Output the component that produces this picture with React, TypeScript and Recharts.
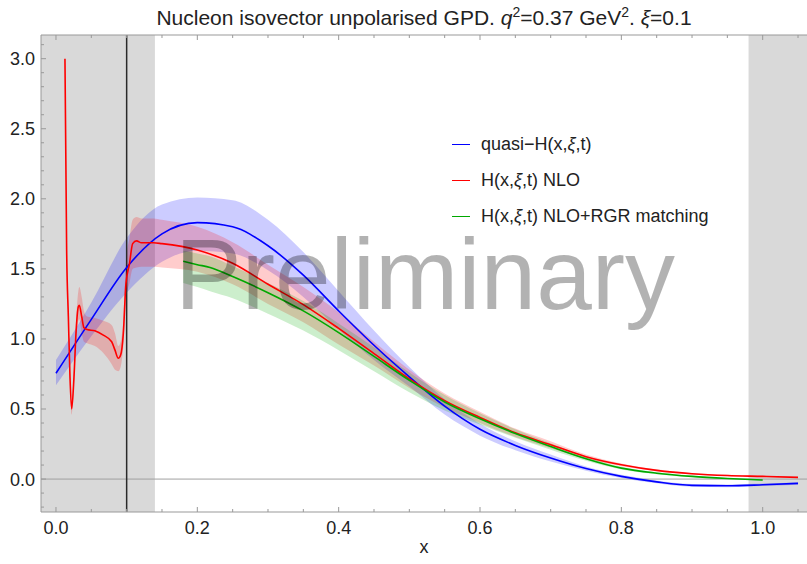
import React from 'react'
import {
  ComposedChart,
  Line,
  Area,
  XAxis,
  YAxis,
  ReferenceArea,
  ReferenceLine,
  Legend,
} from 'recharts'

// plot range (Mathematica frame)
const X_MIN = -0.0212
const X_MAX = 1.0627
const Y_MIN = -0.235
const Y_MAX = 3.169

// ticks: every entry gets a tick mark, majors get a label
const xTicks = [0, 0.05, 0.1, 0.15, 0.2, 0.25, 0.3, 0.35, 0.4, 0.45, 0.5, 0.55, 0.6, 0.65, 0.7, 0.75, 0.8, 0.85, 0.9, 0.95, 1.0, 1.05]
const xMajor = [0, 0.2, 0.4, 0.6, 0.8, 1.0]
const yTicks = [-0.2, -0.1, 0, 0.1, 0.2, 0.3, 0.4, 0.5, 0.6, 0.7, 0.8, 0.9, 1.0, 1.1, 1.2, 1.3, 1.4, 1.5, 1.6, 1.7, 1.8, 1.9, 2.0, 2.1, 2.2, 2.3, 2.4, 2.5, 2.6, 2.7, 2.8, 2.9, 3.0, 3.1]
const yMajor = [0, 0.5, 1.0, 1.5, 2.0, 2.5, 3.0]

// quasi-H(x,xi,t)
const quasiX = [0, 0.05, 0.1, 0.15, 0.2, 0.25, 0.3, 0.35, 0.4, 0.45, 0.5, 0.55, 0.6, 0.65, 0.7, 0.75, 0.8, 0.85, 0.9, 0.95, 1.0, 1.05]
const quasiY = [0.755, 1.14, 1.51, 1.75, 1.83, 1.8, 1.665, 1.455, 1.2, 0.955, 0.73, 0.52, 0.355, 0.24, 0.15, 0.075, 0.019, -0.02, -0.045, -0.048, -0.041, -0.031]
const quasiLo = [0.67, 1.02, 1.33, 1.55, 1.63, 1.61, 1.49, 1.3, 1.07, 0.85, 0.66, 0.46, 0.31, 0.205, 0.125, 0.06, 0.008, -0.03, -0.055, -0.058, -0.05, -0.04]
const quasiHi = [0.85, 1.26, 1.72, 1.96, 2.01, 1.99, 1.85, 1.62, 1.34, 1.06, 0.8, 0.57, 0.395, 0.27, 0.175, 0.09, 0.03, -0.01, -0.035, -0.038, -0.032, -0.022]

// H(x,xi,t) NLO
const nloX = [0.0127, 0.0151, 0.0175, 0.0198, 0.0222, 0.0255, 0.0283, 0.0316, 0.033, 0.0364, 0.0396, 0.044, 0.055, 0.067, 0.0788, 0.0835, 0.0882, 0.0915, 0.0953, 0.099, 0.104, 0.1085, 0.114, 0.121, 0.138, 0.15, 0.2, 0.25, 0.3, 0.35, 0.4, 0.45, 0.5, 0.55, 0.6, 0.65, 0.7, 0.75, 0.8, 0.85, 0.9, 0.95, 1.0, 1.05]
const nloY = [3.0, 1.63, 1.16, 0.73, 0.5, 0.73, 1.04, 1.23, 1.24, 1.16, 1.08, 1.067, 1.058, 1.027, 0.98, 0.92, 0.862, 0.885, 1.04, 1.395, 1.537, 1.68, 1.7, 1.686, 1.686, 1.68, 1.635, 1.54, 1.39, 1.245, 1.075, 0.895, 0.715, 0.56, 0.44, 0.33, 0.245, 0.16, 0.102, 0.062, 0.038, 0.025, 0.019, 0.012]
const nloLo = [2.97, 1.58, 1.11, 0.69, 0.46, 0.68, 0.97, 1.13, 1.14, 1.04, 0.98, 0.97, 0.95, 0.9, 0.82, 0.78, 0.77, 0.8, 0.95, 1.28, 1.4, 1.5, 1.51, 1.515, 1.515, 1.51, 1.48, 1.39, 1.25, 1.12, 0.96, 0.81, 0.65, 0.51, 0.4, 0.3, 0.22, 0.145, 0.092, 0.055, 0.033, 0.021, 0.015, 0.009]
const nloHi = [3.02, 1.68, 1.21, 0.78, 0.54, 0.8, 1.12, 1.34, 1.37, 1.3, 1.2, 1.16, 1.15, 1.13, 1.1, 1.04, 0.95, 0.98, 1.14, 1.55, 1.72, 1.85, 1.87, 1.86, 1.86, 1.85, 1.8, 1.69, 1.53, 1.37, 1.19, 0.98, 0.78, 0.61, 0.48, 0.36, 0.27, 0.175, 0.112, 0.07, 0.043, 0.03, 0.023, 0.015]

// H(x,xi,t) NLO+RGR matching
const rgrX = [0.18, 0.2, 0.218, 0.25, 0.3, 0.35, 0.4, 0.45, 0.5, 0.55, 0.6, 0.65, 0.7, 0.75, 0.8, 0.85, 0.9, 0.95, 1.0]
const rgrY = [1.554, 1.53, 1.51, 1.445, 1.33, 1.2, 1.045, 0.875, 0.705, 0.55, 0.43, 0.325, 0.232, 0.145, 0.078, 0.042, 0.019, 0.004, -0.007]
const rgrLo = [1.4, 1.37, 1.34, 1.29, 1.18, 1.06, 0.92, 0.77, 0.62, 0.49, 0.39, 0.295, 0.21, 0.13, 0.068, 0.035, 0.014, 0.0, -0.01]
const rgrHi = [1.63, 1.61, 1.59, 1.52, 1.4, 1.27, 1.11, 0.94, 0.76, 0.6, 0.47, 0.355, 0.255, 0.16, 0.088, 0.05, 0.024, 0.008, -0.004]

const series = [
  { key: 'quasi', color: '#0000ff', label: ['quasi\u2212H(x,', 'ξ', ',t)'] },
  { key: 'nlo', color: '#ff0000', label: ['H(x,', 'ξ', ',t) NLO'] },
  { key: 'rgr', color: '#00a800', label: ['H(x,', 'ξ', ',t) NLO+RGR matching'] },
]

const toRows = (xs: number[], ys: number[], lo: number[], hi: number[]) =>
  xs.map((x, i) => ({ x, y: ys[i], band: [lo[i], hi[i]] }))

const quasiRows = toRows(quasiX, quasiY, quasiLo, quasiHi)
const nloRows = toRows(nloX, nloY, nloLo, nloHi)
const rgrRows = toRows(rgrX, rgrY, rgrLo, rgrHi)

const FONT = '"Liberation Sans", Arial, sans-serif'
const FRAME = '#999999'
const TEXT = '#222222'

const isIn = (list: number[], v: number) => list.some(m => Math.abs(m - v) < 1e-6)

// frame ticks point inward, like Mathematica
function BottomTick(props: any) {
  const { x, y, payload } = props
  const major = isIn(xMajor, payload.value)
  const y0 = y - 9
  return (
    <g>
      <line x1={x} x2={x} y1={y0} y2={y0 - (major ? 5 : 3)} stroke={FRAME} />
      {major && (
        <text x={x} y={y} dy="0.72em" textAnchor="middle" fontSize={18} fill={TEXT} fontFamily={FONT}>
          {payload.value.toFixed(1)}
        </text>
      )}
    </g>
  )
}

function TopTick(props: any) {
  const { x, y, payload } = props
  const major = isIn(xMajor, payload.value)
  return <line x1={x} x2={x} y1={y} y2={y + (major ? 5 : 3)} stroke={FRAME} />
}

function LeftTick(props: any) {
  const { x, y, payload } = props
  const major = isIn(yMajor, payload.value)
  const x0 = x + 6
  return (
    <g>
      <line x1={x0} x2={x0 + (major ? 5 : 3)} y1={y} y2={y} stroke={FRAME} />
      {major && (
        <text x={x} y={y} dy="0.36em" textAnchor="end" fontSize={18} fill={TEXT} fontFamily={FONT}>
          {payload.value.toFixed(1)}
        </text>
      )}
    </g>
  )
}

function LegendBox() {
  return (
    <div style={{ fontFamily: FONT, fontSize: 18, color: TEXT }}>
      {series.map(s => (
        <div key={s.key} style={{ display: 'flex', alignItems: 'center', height: 36 }}>
          <span style={{ display: 'inline-block', width: 18, height: 0, borderTop: `1.6px solid ${s.color}`, marginRight: 11 }} />
          <span style={{ whiteSpace: 'nowrap' }}>
            {s.label[0]}
            <i>{s.label[1]}</i>
            {s.label[2]}
          </span>
        </div>
      ))}
    </div>
  )
}

export default function App() {
  return (
    <div style={{ position: 'absolute', left: 0, top: 0, width: 807, height: 564, background: '#fff', overflow: 'hidden' }}>
      <ComposedChart width={807} height={564} margin={{ top: 5, right: 0, bottom: 0, left: 0 }}>
        <XAxis
          dataKey="x"
          type="number"
          domain={[X_MIN, X_MAX]}
          allowDataOverflow
          ticks={xTicks}
          interval={0}
          tick={<BottomTick />}
          tickSize={0}
          tickMargin={9}
          tickLine={false}
          axisLine={{ stroke: FRAME }}
          height={52}
          label={{ value: 'x', position: 'insideBottom', offset: 11, style: { fontSize: 18, fill: TEXT, fontFamily: FONT } }}
        />
        <XAxis
          xAxisId="top"
          orientation="top"
          dataKey="x"
          type="number"
          domain={[X_MIN, X_MAX]}
          allowDataOverflow
          ticks={xTicks}
          interval={0}
          tick={<TopTick />}
          tickSize={0}
          tickMargin={0}
          tickLine={false}
          axisLine={{ stroke: FRAME }}
          height={30}
        />
        <YAxis
          type="number"
          domain={[Y_MIN, Y_MAX]}
          allowDataOverflow
          ticks={yTicks}
          interval={0}
          tick={<LeftTick />}
          tickSize={0}
          tickMargin={6}
          tickLine={false}
          axisLine={{ stroke: FRAME }}
          width={41}
        />
        <ReferenceArea x1={X_MIN} x2={0.14} y1={Y_MIN} y2={Y_MAX} fill="#d9d9d9" fillOpacity={1} stroke="none" ifOverflow="hidden" />
        <ReferenceArea x1={0.98} x2={X_MAX} y1={Y_MIN} y2={Y_MAX} fill="#d9d9d9" fillOpacity={1} stroke="none" ifOverflow="hidden" />
        <ReferenceLine y={0} stroke="#a0a0a0" strokeWidth={1} />
        <ReferenceLine x={0.1} stroke="#2a2a2a" strokeWidth={1.5} />

        <Area data={quasiRows} dataKey="band" type="monotone" stroke="none" fill="#0000ff" fillOpacity={0.2} isAnimationActive={false} legendType="none" />
        <Area data={nloRows} dataKey="band" type="monotone" stroke="none" fill="#ff0000" fillOpacity={0.2} isAnimationActive={false} legendType="none" />
        <Area data={rgrRows} dataKey="band" type="monotone" stroke="none" fill="#00a800" fillOpacity={0.2} isAnimationActive={false} legendType="none" />

        <Line data={quasiRows} dataKey="y" name="quasi-H" type="monotone" stroke="#0000ff" strokeWidth={1.6} dot={false} activeDot={false} isAnimationActive={false} />
        <Line data={nloRows} dataKey="y" name="NLO" type="monotone" stroke="#ff0000" strokeWidth={1.6} dot={false} activeDot={false} isAnimationActive={false} />
        <Line data={rgrRows} dataKey="y" name="NLO+RGR" type="monotone" stroke="#00a800" strokeWidth={1.6} dot={false} activeDot={false} isAnimationActive={false} />

        <Legend
          layout="vertical"
          align="center"
          verticalAlign="middle"
          content={() => <LegendBox />}
          wrapperStyle={{ left: 452, top: 126, width: 'auto' }}
        />
      </ComposedChart>

      <svg width={807} height={564} style={{ position: 'absolute', left: 0, top: 0, pointerEvents: 'none' }}>
        <text x={424} y={25} textAnchor="middle" fontSize={21} fill={TEXT} fontFamily={FONT}>
          Nucleon isovector unpolarised GPD.{' '}
          <tspan fontStyle="italic">q</tspan>
          <tspan dy={-8} fontSize={14}>2</tspan>
          <tspan dy={8}>=0.37 GeV</tspan>
          <tspan dy={-8} fontSize={14}>2</tspan>
          <tspan dy={8}>. </tspan>
          <tspan fontStyle="italic">ξ</tspan>
          <tspan>=0.1</tspan>
        </text>
        <text x={175} y={309} fontSize={100} fill="#000000" fillOpacity={0.3} fontFamily={FONT}>
          Preliminary
        </text>
      </svg>
    </div>
  )
}
